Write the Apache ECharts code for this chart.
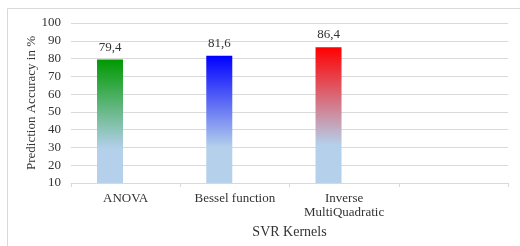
<!DOCTYPE html>
<html>
<head>
<meta charset="utf-8">
<script src="https://cdn.jsdelivr.net/npm/echarts@6/dist/echarts.min.js"></script>
<style>
  html, body { margin: 0; padding: 0; background: #fff; }
  #chart { width: 520px; height: 246px; }
</style>
</head>
<body>
<div id="chart"></div>
<script>
// data
const categories = ["ANOVA", "Bessel function", "Inverse\nMultiQuadratic", ""];
const accuracy = [79.4, 81.6, 86.4, null];
const emptySeries = [null, null, null, null];
const topColors = ["#009900", "#0000ff", "#ff0000", "#ffffff"];
const yTicks = [10, 20, 30, 40, 50, 60, 70, 80, 90, 100];

const font = "'Liberation Serif', 'Times New Roman', serif";
const paleBlue = "#b4d0eb";

function barFill(top) {
  return new echarts.graphic.LinearGradient(0, 0, 0, 1, [
    { offset: 0, color: top },
    { offset: 0.72, color: paleBlue },
    { offset: 1, color: paleBlue }
  ]);
}

let myChart = echarts.init(document.getElementById("chart"), null, { renderer: "canvas" });
myChart.setOption({
  animation: false,
  graphic: [
    {
      type: "rect",
      shape: { x: 7.5, y: 8.5, width: 600, height: 400 },
      style: { fill: "none", stroke: "#d9d9d9", lineWidth: 1 },
      silent: true
    }
  ],
  grid: { left: 71, right: 12, top: 23, bottom: 63 },
  xAxis: {
    type: "category",
    data: categories,
    name: "SVR Kernels",
    nameLocation: "middle",
    nameGap: 42,
    nameMoveOverlap: false,
    nameTextStyle: { fontFamily: font, fontSize: 14, color: "#333" },
    axisLine: { lineStyle: { color: "#d9d9d9" } },
    axisTick: { show: true, length: 4, lineStyle: { color: "#d9d9d9" } },
    axisLabel: { fontFamily: font, fontSize: 13, color: "#333", margin: 9, lineHeight: 14 }
  },
  yAxis: {
    type: "value",
    min: yTicks[0],
    max: yTicks[yTicks.length - 1],
    interval: 10,
    name: "Prediction Accuracy in %",
    nameLocation: "middle",
    nameGap: 33,
    nameMoveOverlap: false,
    nameTextStyle: { fontFamily: font, fontSize: 13, color: "#333" },
    axisLine: { show: false },
    axisTick: { show: false },
    axisLabel: { fontFamily: font, fontSize: 13, color: "#333", margin: 10 },
    splitLine: { lineStyle: { color: "#d9d9d9", width: 1 } }
  },
  series: [
    {
      name: "accuracy",
      type: "bar",
      barWidth: 26,
      barGap: "20%",
      data: accuracy.map((v, i) => ({
        value: v,
        itemStyle: { color: barFill(topColors[i]) }
      })),
      label: {
        show: true,
        position: "top",
        distance: 6,
        fontFamily: font,
        fontSize: 13,
        color: "#333",
        formatter: p => (p.value == null ? "" : String(p.value.toFixed(1)).replace(".", ","))
      }
    },
    {
      name: "empty",
      type: "bar",
      barWidth: 26,
      data: emptySeries
    }
  ]
});
</script>
</body>
</html>
